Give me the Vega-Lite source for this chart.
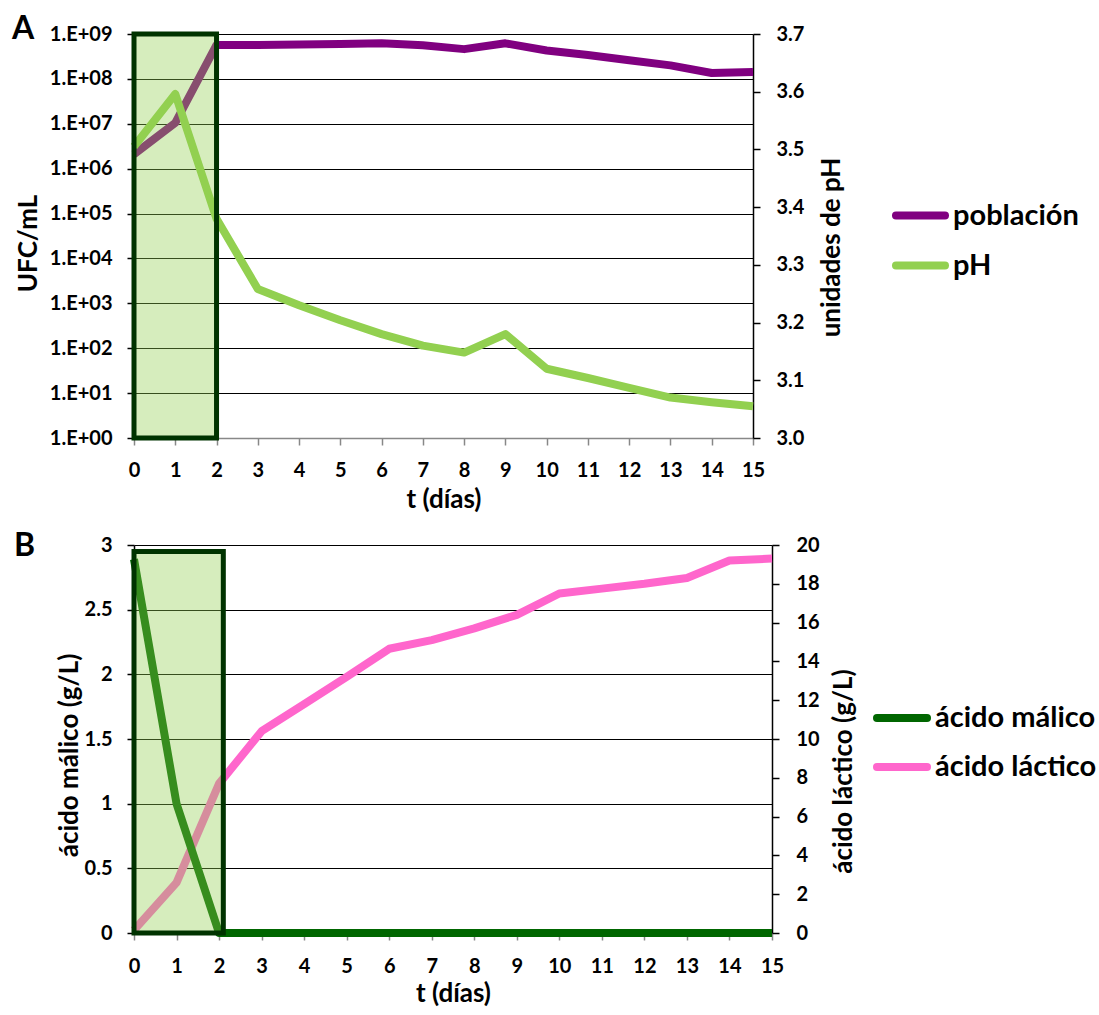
{
"$schema": "https://vega.github.io/schema/vega-lite/v6.json",
"padding": {"left": 12, "top": 13, "right": 5, "bottom": 2},
"config": {
"font": "Lato", "view": {"stroke": null},
"axis": {"labelFontSize": 20, "labelFontWeight": "bold", "labelColor": "#000", "titleFontSize": 26, "titleFontWeight": "bold", "titleColor": "#000", "tickSize": 7, "tickWidth": 1.5, "domainWidth": 1.5, "labelOverlap": false, "labelFlush": false},
"legend": {"orient": "none", "title": null, "labelFontSize": 29, "labelFontWeight": "bold", "labelColor": "#000", "symbolType": "stroke", "symbolStrokeWidth": 8, "labelOffset": 4, "padding": 0, "labelLimit": 400}
},
"datasets": {
"pop": [
{"t":0,"v":2.1e6,"serie":"población"},{"t":1,"v":1.05e7,"serie":"población"},{"t":2,"v":5.7e8,"serie":"población"},{"t":3,"v":5.7e8,"serie":"población"},{"t":4,"v":5.8e8,"serie":"población"},{"t":5,"v":6.0e8,"serie":"población"},{"t":6,"v":6.2e8,"serie":"población"},{"t":7,"v":5.6e8,"serie":"población"},{"t":8,"v":4.6e8,"serie":"población"},{"t":9,"v":6.2e8,"serie":"población"},{"t":10,"v":4.3e8,"serie":"población"},{"t":11,"v":3.4e8,"serie":"población"},{"t":12,"v":2.6e8,"serie":"población"},{"t":13,"v":2.0e8,"serie":"población"},{"t":14,"v":1.35e8,"serie":"población"},{"t":15,"v":1.42e8,"serie":"población"}],
"ph": [
{"t":0,"v":3.505,"serie":"pH"},{"t":1,"v":3.596,"serie":"pH"},{"t":2,"v":3.38,"serie":"pH"},{"t":3,"v":3.258,"serie":"pH"},{"t":4,"v":3.23,"serie":"pH"},{"t":5,"v":3.204,"serie":"pH"},{"t":6,"v":3.18,"serie":"pH"},{"t":7,"v":3.16,"serie":"pH"},{"t":8,"v":3.148,"serie":"pH"},{"t":9,"v":3.18,"serie":"pH"},{"t":10,"v":3.12,"serie":"pH"},{"t":11,"v":3.104,"serie":"pH"},{"t":12,"v":3.087,"serie":"pH"},{"t":13,"v":3.07,"serie":"pH"},{"t":14,"v":3.062,"serie":"pH"},{"t":15,"v":3.055,"serie":"pH"}],
"malico": [
{"t":0,"v":2.89,"serie":"ácido málico"},{"t":1,"v":1.0,"serie":"ácido málico"},{"t":2,"v":0,"serie":"ácido málico"},{"t":3,"v":0,"serie":"ácido málico"},{"t":4,"v":0,"serie":"ácido málico"},{"t":5,"v":0,"serie":"ácido málico"},{"t":6,"v":0,"serie":"ácido málico"},{"t":7,"v":0,"serie":"ácido málico"},{"t":8,"v":0,"serie":"ácido málico"},{"t":9,"v":0,"serie":"ácido málico"},{"t":10,"v":0,"serie":"ácido málico"},{"t":11,"v":0,"serie":"ácido málico"},{"t":12,"v":0,"serie":"ácido málico"},{"t":13,"v":0,"serie":"ácido málico"},{"t":14,"v":0,"serie":"ácido málico"},{"t":15,"v":0,"serie":"ácido málico"}],
"lactico": [
{"t":0,"v":0.15,"serie":"ácido láctico"},{"t":1,"v":2.6,"serie":"ácido láctico"},{"t":2,"v":7.7,"serie":"ácido láctico"},{"t":3,"v":10.4,"serie":"ácido láctico"},{"t":4,"v":11.8,"serie":"ácido láctico"},{"t":5,"v":13.2,"serie":"ácido láctico"},{"t":6,"v":14.65,"serie":"ácido láctico"},{"t":7,"v":15.1,"serie":"ácido láctico"},{"t":8,"v":15.7,"serie":"ácido láctico"},{"t":9,"v":16.4,"serie":"ácido láctico"},{"t":10,"v":17.5,"serie":"ácido láctico"},{"t":11,"v":17.75,"serie":"ácido láctico"},{"t":12,"v":18.0,"serie":"ácido láctico"},{"t":13,"v":18.3,"serie":"ácido láctico"},{"t":14,"v":19.2,"serie":"ácido láctico"},{"t":15,"v":19.3,"serie":"ácido láctico"}],
"boxA": [{"x1":0,"x2":2,"y1":3.0,"y2":3.7}],
"boxB": [{"x1":0,"x2":2.1,"y1":0,"y2":2.95}]
},
"resolve": {"scale": {"color": "independent"}},
"spacing": 18,
"vconcat": [
{
"width": 619, "height": 404,
"layer": [
{"data": {"name": "pop"}, "mark": {"type": "line", "strokeWidth": 8, "strokeJoin": "round"},
"encoding": {
"x": {"field": "t", "type": "quantitative", "title": "t (días)", "scale": {"domain": [0, 15], "nice": false},
"axis": {"values": [0,1,2,3,4,5,6,7,8,9,10,11,12,13,14,15], "grid": false, "domainColor": "#888", "tickColor": "#888", "labelPadding": 15, "titlePadding": 6}},
"y": {"field": "v", "type": "quantitative", "title": "UFC/mL", "scale": {"type": "log", "domain": [1, 1e9], "nice": false},
"axis": {"orient": "left", "values": [1,10,100,1000,10000,100000,1000000,10000000,100000000,1000000000], "labelExpr": "'1.E+0' + round(log(datum.value)/LN10)", "grid": true, "gridColor": "#000", "gridWidth": 1.2, "gridOpacity": {"condition": {"test": "datum.value == 1", "value": 0}, "value": 1}, "domainColor": "#000", "tickColor": "#000", "labelPadding": 15, "titlePadding": 8, "titleY": 209}},
"color": {"field": "serie", "type": "nominal", "scale": {"domain": ["población", "pH"], "range": ["#800080", "#92D050"]},
"legend": {"legendX": 758, "legendY": 153, "symbolSize": 2400, "rowPadding": 5, "encode": {"symbols": {"update": {"strokeCap": {"value": "round"}}}}}}
}},
{"layer": [
{"data": {"name": "ph"}, "mark": {"type": "line", "strokeWidth": 8, "strokeJoin": "round"},
"encoding": {
"x": {"field": "t", "type": "quantitative", "title": "t (días)"},
"y": {"field": "v", "type": "quantitative", "title": "unidades de pH", "scale": {"domain": [3.0, 3.7], "nice": false},
"axis": {"orient": "right", "values": [3.0,3.1,3.2,3.3,3.4,3.5,3.6,3.7], "format": ".1f", "grid": false, "domainColor": "#000", "tickColor": "#000", "labelPadding": 16, "titlePadding": 15, "titleAngle": -90, "titleBaseline": "top", "titleY": 213}},
"color": {"field": "serie", "type": "nominal", "scale": {"domain": ["población", "pH"], "range": ["#800080", "#92D050"]},
"legend": {"legendX": 758, "legendY": 153, "symbolSize": 2400, "rowPadding": 5, "encode": {"symbols": {"update": {"strokeCap": {"value": "round"}}}}}}
}},
{"data": {"name": "boxA"}, "mark": {"type": "rect", "fill": "#92D050", "fillOpacity": 0.376, "stroke": "#003300", "strokeWidth": 5},
"encoding": {
"x": {"field": "x1", "type": "quantitative", "title": "t (días)"}, "x2": {"field": "x2"},
"y": {"field": "y1", "type": "quantitative", "title": "unidades de pH"}, "y2": {"field": "y2"}
}},
{"data": {"values": [{"panel": "A"}]}, "mark": {"type": "text", "align": "left", "baseline": "top", "dx": -122, "dy": -20, "fontSize": 32, "fontWeight": "bold", "color": "#000", "font": "Lato"},
"encoding": {"text": {"field": "panel"}, "x": {"datum": 0}, "y": {"datum": 3.7}}}
]}
],
"resolve": {"scale": {"y": "independent"}}
},
{
"width": 638, "height": 388,
"layer": [
{"data": {"name": "lactico"}, "mark": {"type": "line", "strokeWidth": 8, "strokeJoin": "round"},
"encoding": {
"x": {"field": "t", "type": "quantitative", "title": "t (días)", "scale": {"domain": [0, 15], "nice": false},
"axis": {"values": [0,1,2,3,4,5,6,7,8,9,10,11,12,13,14,15], "grid": false, "domainColor": "#888", "tickColor": "#888", "labelPadding": 16, "titlePadding": 4}},
"y": {"field": "v", "type": "quantitative", "title": "ácido láctico (g/L)", "scale": {"domain": [0, 20], "nice": false},
"axis": {"orient": "right", "values": [0,2,4,6,8,10,12,14,16,18,20], "tickCount": 11, "labelOverlap": false, "grid": false, "domainColor": "#000", "tickColor": "#000", "labelPadding": 17, "titlePadding": 11, "titleAngle": -90, "titleBaseline": "top", "titleY": 226}},
"color": {"field": "serie", "type": "nominal", "scale": {"domain": ["ácido málico", "ácido láctico"], "range": ["#006600", "#FF66CC"]},
"legend": {"legendX": 739, "legendY": 144, "symbolSize": 2500, "rowPadding": 4, "encode": {"symbols": {"update": {"strokeCap": {"value": "round"}}}}}}
}},
{"layer": [
{"data": {"name": "malico"}, "mark": {"type": "line", "strokeWidth": 8, "strokeJoin": "round"},
"encoding": {
"x": {"field": "t", "type": "quantitative", "title": "t (días)"},
"y": {"field": "v", "type": "quantitative", "title": "ácido málico (g/L)", "scale": {"domain": [0, 3], "nice": false},
"axis": {"orient": "left", "values": [0,0.5,1,1.5,2,2.5,3], "format": "~g", "grid": true, "gridColor": "#000", "gridWidth": 1.2, "gridOpacity": {"condition": {"test": "datum.value == 0", "value": 0}, "value": 1}, "domainColor": "#000", "tickColor": "#000", "labelPadding": 15, "titlePadding": 2, "titleY": 210}},
"color": {"field": "serie", "type": "nominal", "scale": {"domain": ["ácido málico", "ácido láctico"], "range": ["#006600", "#FF66CC"]},
"legend": {"legendX": 739, "legendY": 144, "symbolSize": 2500, "rowPadding": 4, "encode": {"symbols": {"update": {"strokeCap": {"value": "round"}}}}}}
}},
{"data": {"name": "boxB"}, "mark": {"type": "rect", "fill": "#92D050", "fillOpacity": 0.376, "stroke": "#003300", "strokeWidth": 5},
"encoding": {
"x": {"field": "x1", "type": "quantitative", "title": "t (días)"}, "x2": {"field": "x2"},
"y": {"field": "y1", "type": "quantitative", "title": "ácido málico (g/L)"}, "y2": {"field": "y2"}
}},
{"data": {"values": [{"panel": "B"}]}, "mark": {"type": "text", "align": "left", "baseline": "top", "dx": -120, "dy": -14, "fontSize": 32, "fontWeight": "bold", "color": "#000", "font": "Lato"},
"encoding": {"text": {"field": "panel"}, "x": {"datum": 0}, "y": {"datum": 3}}}
]}
],
"resolve": {"scale": {"y": "independent"}}
}
]
}
